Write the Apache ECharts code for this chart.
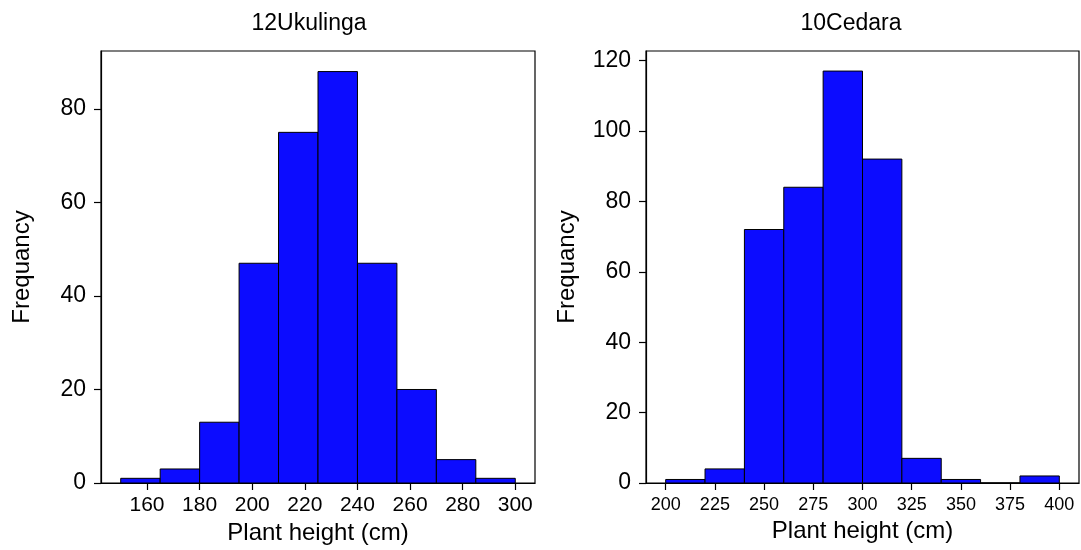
<!DOCTYPE html>
<html><head><meta charset="utf-8">
<script src="https://cdn.jsdelivr.net/npm/echarts@6/dist/echarts.min.js"></script>
<style>html,body{margin:0;padding:0;background:#fff}#c{width:1081px;height:550px}</style>
</head><body><div id="c"></div>
<script>
// Left histogram: 12Ukulinga
const leftTitle = '12Ukulinga';
const leftBinStart = [150, 165, 180, 195, 210, 225, 240, 255, 270, 285];
const leftBinEnd   = [165, 180, 195, 210, 225, 240, 255, 270, 285, 300];
const leftCounts   = [1, 3, 13, 47, 75, 88, 47, 20, 5, 1];
const leftXTicks   = [160, 180, 200, 220, 240, 260, 280, 300];
const leftYTicks   = [0, 20, 40, 60, 80];

// Right histogram: 10Cedara
const rightTitle = '10Cedara';
const rightBinStart = [200, 220, 240, 260, 280, 300, 320, 340, 360, 380];
const rightBinEnd   = [220, 240, 260, 280, 300, 320, 340, 360, 380, 400];
const rightCounts   = [1, 4, 72, 84, 117, 92, 7, 1, 0, 2];
const rightXTicks   = [200, 225, 250, 275, 300, 325, 350, 375, 400];
const rightYTicks   = [0, 20, 40, 60, 80, 100, 120];

const xName = 'Plant height (cm)';
const yName = 'Frequancy';

const FONT = "'Liberation Sans', Arial, sans-serif";

function histData(s, e, c) { return c.map((v, i) => [s[i], e[i], v]); }

function renderBar(params, api) {
  const p0 = api.coord([api.value(0), 0]);
  const p1 = api.coord([api.value(1), api.value(2)]);
  return {
    type: 'rect',
    shape: { x: p0[0], y: p1[1], width: p1[0] - p0[0], height: p0[1] - p1[1] },
    style: { fill: '#0c0cff', stroke: '#000', lineWidth: 1 }
  };
}

function xAxisCfg(idx, min, max, ticks, labelSize, labelMargin) {
  return {
    type: 'value', gridIndex: idx, min: min, max: max,
    splitLine: { show: false },
    axisLine: { show: true, onZero: false, lineStyle: { color: '#000', width: 1.2 } },
    axisTick: { show: true, length: 7, customValues: ticks, lineStyle: { color: '#000', width: 1.2 } },
    axisLabel: { customValues: ticks, color: '#000', fontFamily: FONT, fontSize: labelSize, margin: labelMargin },
    name: xName, nameLocation: 'middle', nameGap: 36,
    nameTextStyle: { color: '#000', fontFamily: FONT, fontSize: 24 }
  };
}
function yAxisCfg(idx, max, ticks) {
  return {
    type: 'value', gridIndex: idx, min: 0, max: max,
    splitLine: { show: false },
    axisLine: { show: true, onZero: false, lineStyle: { color: '#000', width: 1.2 } },
    axisTick: { show: true, length: 7, customValues: ticks, lineStyle: { color: '#000', width: 1.2 } },
    axisLabel: { customValues: ticks, color: '#000', fontFamily: FONT, fontSize: 23, margin: 15 },
    name: yName, nameLocation: 'middle', nameGap: 67,
    nameTextStyle: { color: '#000', fontFamily: FONT, fontSize: 24 }
  };
}

const chart = echarts.init(document.getElementById('c'), null, { renderer: 'canvas' });
chart.setOption({
  animation: false,
  backgroundColor: '#fff',
  title: [
    { text: leftTitle, left: 304, top: 7, textAlign: 'center', textStyle: { color: '#000', fontFamily: FONT, fontSize: 23, fontWeight: 'normal' } },
    { text: rightTitle, left: 846, top: 7, textAlign: 'center', textStyle: { color: '#000', fontFamily: FONT, fontSize: 23, fontWeight: 'normal' } }
  ],
  grid: [
    { left: 101, top: 51, width: 434, height: 432, show: true, borderColor: '#000', borderWidth: 1.2, backgroundColor: 'transparent' },
    { left: 646, top: 51, width: 433, height: 432, show: true, borderColor: '#000', borderWidth: 1.2, backgroundColor: 'transparent' }
  ],
  xAxis: [
    xAxisCfg(0, 142.5, 307.5, leftXTicks, 21, 12),
    xAxisCfg(1, 190, 410, rightXTicks, 18, 13)
  ],
  yAxis: [
    yAxisCfg(0, 92.4, leftYTicks),
    yAxisCfg(1, 122.7, rightYTicks)
  ],
  series: [
    { type: 'custom', xAxisIndex: 0, yAxisIndex: 0, renderItem: renderBar, encode: { x: [0, 1], y: 2 }, data: histData(leftBinStart, leftBinEnd, leftCounts) },
    { type: 'custom', xAxisIndex: 1, yAxisIndex: 1, renderItem: renderBar, encode: { x: [0, 1], y: 2 }, data: histData(rightBinStart, rightBinEnd, rightCounts) }
  ]
});
</script></body></html>
